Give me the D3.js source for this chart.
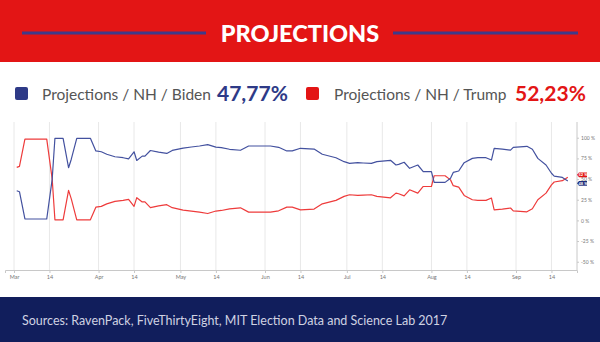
<!DOCTYPE html>
<html><head><meta charset="utf-8">
<script src="https://cdn.jsdelivr.net/npm/d3@7"></script>
<style>html,body{margin:0;padding:0;background:#fff;}svg{display:block;}</style>
</head><body>
<script>
const dates = ["2020-03-02","2020-03-03","2020-03-05","2020-03-13","2020-03-15","2020-03-16","2020-03-19","2020-03-21","2020-03-22","2020-03-24","2020-03-29","2020-03-31",
"2020-04-02","2020-04-04","2020-04-07","2020-04-10","2020-04-12","2020-04-14","2020-04-15","2020-04-17","2020-04-18","2020-04-20","2020-04-23","2020-04-26","2020-04-28",
"2020-05-02","2020-05-05","2020-05-08","2020-05-11","2020-05-14","2020-05-16","2020-05-19","2020-05-23","2020-05-26",
"2020-06-03","2020-06-06","2020-06-09","2020-06-11","2020-06-14","2020-06-19","2020-06-22","2020-06-27","2020-06-30",
"2020-07-02","2020-07-05","2020-07-07","2020-07-10","2020-07-12","2020-07-17","2020-07-19","2020-07-20","2020-07-22","2020-07-24","2020-07-27","2020-07-29",
"2020-08-01","2020-08-02","2020-08-06","2020-08-08","2020-08-09","2020-08-11","2020-08-13","2020-08-16","2020-08-18","2020-08-21","2020-08-23","2020-08-24","2020-08-27","2020-08-30","2020-08-31",
"2020-09-05","2020-09-07","2020-09-09","2020-09-12","2020-09-14","2020-09-15","2020-09-18","2020-09-20"];
const biden = [35.9,34.7,1.7,1.7,50,99.3,99.3,63.7,74,99.3,99.3,84,
83,80,77,75.8,74.5,83,72.5,77.7,77.7,84.5,82.5,81,84.6,
87.5,88.8,90,91.7,88.7,88,86,84.8,90,
90,88.4,84,84,87.2,86.3,80,75.8,71,
69,69.8,69.4,69,71,72.7,67,67.8,70.3,63,67,59,
59,46,46,51,58,59.7,69.8,75,75.8,75.8,73,87.2,86.3,85,88.4,
89.6,86,75,67,57,53.6,52,47.77];
const trump = [64.1,65.3,98.3,98.3,50,0.7,0.7,36.3,26,0.7,0.7,16,
17,20,23,24.2,25.5,17,27.5,22.3,22.3,15.5,17.5,19,15.4,
12.5,11.2,10,8.3,11.3,12,14,15.2,10,
10,11.6,16,16,12.8,13.7,20,24.2,29,
31,30.2,30.6,31,29,27.3,33,32.2,29.7,37,33,41,
41,54,54,49,42,40.3,30.2,25,24.2,24.2,27,12.8,13.7,15,11.6,
10.4,14,25,33,43,46.4,48,52.23];
const tickDates = ["2020-03-01","2020-03-14","2020-04-01","2020-04-14","2020-05-01","2020-05-14","2020-06-01","2020-06-14","2020-07-01","2020-07-14","2020-08-01","2020-08-14","2020-09-01","2020-09-14"];
const tickLabels = ["Mar","14","Apr","14","May","14","Jun","14","Jul","14","Aug","14","Sep","14"];
const yTicks = [100,75,50,25,0,-25,-50];
const seriesNames = ["Projections / NH / Biden","Projections / NH / Trump"];
const lastValues = ["47,77%","52,23%"];
const flagLabels = ["48 %","52 %"];
const title = "PROJECTIONS";
const source = "Sources: RavenPack, FiveThirtyEight, MIT Election Data and Science Lab 2017";

const W=600,H=342;
const RED="#e31515", NAVY="#2e3a87", FOOT="#111e5c";
const parse=d3.timeParse("%Y-%m-%d");
const svg=d3.select("body").append("svg").attr("width",W).attr("height",H);

// header
svg.append("rect").attr("x",0).attr("y",0).attr("width",W).attr("height",62).attr("fill",RED);
svg.append("line").attr("x1",22).attr("x2",206).attr("y1",33).attr("y2",33).attr("stroke","#3f3a8a").attr("stroke-width",3);
svg.append("line").attr("x1",393).attr("x2",578).attr("y1",33).attr("y2",33).attr("stroke","#3f3a8a").attr("stroke-width",3);
svg.append("text").attr("x",300).attr("y",41.5).attr("text-anchor","middle").attr("fill","#fff")
  .attr("font-family","Lato").attr("font-weight","900").attr("font-size",23.5).text(title);

// legend
const lg=svg.append("g").attr("font-family","Lato");
lg.append("rect").attr("x",15).attr("y",87).attr("width",13).attr("height",13).attr("rx",2).attr("fill",NAVY);
lg.append("text").attr("x",42).attr("y",99.5).attr("fill","#555").attr("font-size",15.5).text(seriesNames[0]);
lg.append("text").attr("x",217).attr("y",101).attr("fill",NAVY).attr("font-weight","bold").attr("font-size",21).text(lastValues[0]);
lg.append("rect").attr("x",306).attr("y",87).attr("width",13).attr("height",13).attr("rx",2).attr("fill",RED);
lg.append("text").attr("x",334).attr("y",99.5).attr("fill","#555").attr("font-size",15.5).text(seriesNames[1]);
lg.append("text").attr("x",515).attr("y",101).attr("fill",RED).attr("font-weight","bold").attr("font-size",21).text(lastValues[1]);

// chart
const pTop=122,pBottom=270,pLeft=5,pRight=577;
const mar1=parse("2020-03-01");
const day=864e5, pxPerDay=502/184;
const x=d3.scaleTime().domain([new Date(+mar1-(14-pLeft)/pxPerDay*day), new Date(+mar1+(pRight-14)/pxPerDay*day)]).range([pLeft,pRight]);
const y=d3.scaleLinear().domain([-60,119]).range([pBottom,pTop]);

const tds=tickDates.map(parse);
svg.append("g").selectAll("line").data(tds).join("line")
  .attr("x1",d=>x(d)).attr("x2",d=>x(d)).attr("y1",pTop).attr("y2",pBottom)
  .attr("stroke","#e8e8e8").attr("stroke-width",1);

const xAxis=d3.axisBottom(x).tickValues(tds).tickFormat((d,i)=>tickLabels[i]).tickSize(3).tickPadding(2);
const gx=svg.append("g").attr("transform",`translate(0,${pBottom})`).call(xAxis);
gx.select(".domain").attr("stroke","#c8c8c8");
gx.selectAll(".tick line").attr("stroke","#c8c8c8");
gx.selectAll("text").attr("fill","#777").attr("font-size",5.5).attr("font-family","Lato");

const yAxis=d3.axisRight(y).tickValues(yTicks).tickFormat(d=>d+" %").tickSize(2).tickPadding(2);
const gy=svg.append("g").attr("transform",`translate(${pRight},0)`).call(yAxis);
gy.select(".domain").attr("stroke","#c8c8c8").attr("d",`M0,${pTop}V${pBottom}`);
gy.selectAll(".tick line").attr("stroke","#c8c8c8");
gy.selectAll("text").attr("fill","#777").attr("font-size",5).attr("font-family","Lato");

const pts=dates.map(parse);
const line=vals=>d3.line().x((d,i)=>x(pts[i])).y(d=>y(d))(vals);
svg.append("path").attr("d",line(trump)).attr("fill","none").attr("stroke","#ee3b3b").attr("stroke-width",1.2).attr("stroke-linejoin","round");
svg.append("path").attr("d",line(biden)).attr("fill","none").attr("stroke","#43519f").attr("stroke-width",1.2).attr("stroke-linejoin","round");

// end flags
function flag(val,color,label,dy){
  const cy=y(val)+dy, g=svg.append("g");
  g.append("path").attr("d",`M${pRight},${cy}L${pRight+2},${cy-2.4}H${pRight+10}V${cy+2.4}H${pRight+2}Z`).attr("fill",color);
  g.append("text").attr("x",pRight+6).attr("y",cy+1.5).attr("text-anchor","middle").attr("fill","#fff")
    .attr("font-size",4).attr("font-family","Lato").attr("font-weight","bold").text(label);
}
flag(trump[trump.length-1],RED,flagLabels[1],-2.4);
flag(biden[biden.length-1],"#1f2d7a",flagLabels[0],2.4);

// footer
svg.append("rect").attr("x",0).attr("y",297).attr("width",W).attr("height",H-297).attr("fill",FOOT);
svg.append("text").attr("x",22).attr("y",324.5).attr("fill","#cfd2e2").attr("font-family","Lato").attr("font-size",12.5).text(source);
</script>
</body></html>
